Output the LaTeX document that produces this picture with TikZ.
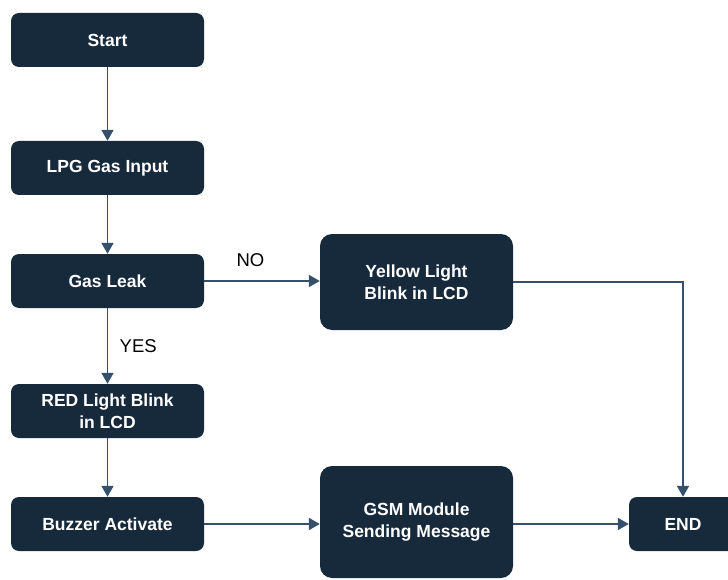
\documentclass[tikz,border=0pt]{standalone}
\usepackage{fontspec}
\setmainfont{Liberation Sans}
\usetikzlibrary{arrows.meta,positioning}
\definecolor{boxfill}{HTML}{172A3C}
\definecolor{linecol}{HTML}{34506B}
\tikzset{font=\fontsize{18.5}{22}\selectfont}
\tikzset{box/.style={fill=boxfill, rounded corners=8pt, text=white, font=\fontsize{17.5}{22}\selectfont\bfseries,
    minimum width=193pt, minimum height=54pt, align=center, inner sep=0pt}}
\tikzset{flow/.style={draw=linecol, line width=1.8pt, -{Triangle[length=11pt,width=12pt]}}}

\begin{document}
\begin{tikzpicture}[x=1pt, y=-1pt]
  \useasboundingbox (0,0) rectangle (728,580);

  \node[box] (start) at (107.5,40) {Start};
  \node[box] (lpg) at (107.5,168) {LPG Gas Input};
  \node[box] (leak) at (107.5,281) {Gas Leak};
  \node[box] (red) at (107.5,411) {RED Light Blink\\in LCD};
  \node[box] (buzz) at (107.5,524) {Buzzer Activate};
  \node[box, minimum height=96pt, rounded corners=12pt] (yellow) at (416.5,282) {Yellow Light\\Blink in LCD};
  \node[box, minimum height=112pt, rounded corners=12pt] (gsm) at (416.5,522) {GSM Module\\Sending Message};
  \node[box, minimum width=108pt] (end) at (683,524) {END};

  \foreach \a/\b in {start/lpg, lpg/leak, red/buzz}{
    \draw[flow] (\a) -- (\b);
  };
  \draw[flow] (leak) -- node[right=8pt, text=black] {YES} (red);
  \draw[flow] (leak) -- node[above=10pt, pos=0.4, text=black] {NO} (leak -| yellow.west);
  \draw[flow] (buzz) -- (gsm.west |- buzz);
  \draw[flow] (gsm.east |- end) -- (end);
  \draw[flow] (yellow) -| (end);
\end{tikzpicture}
\end{document}
